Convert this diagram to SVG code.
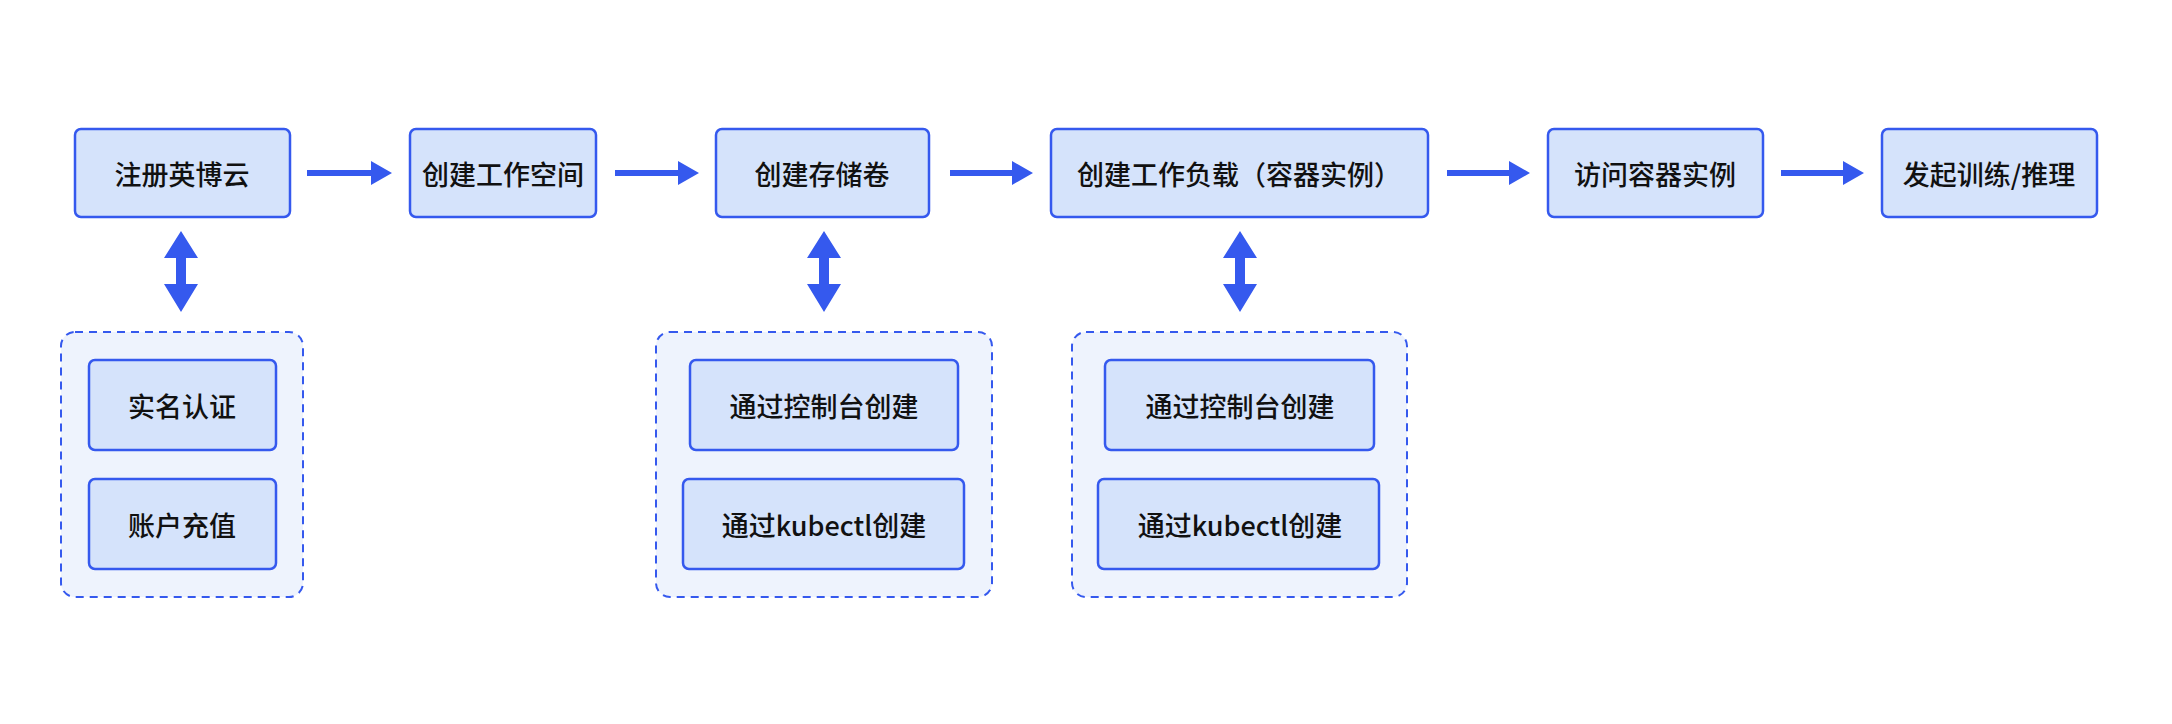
<svg xmlns="http://www.w3.org/2000/svg" width="2172" height="724" viewBox="0 0 2172 724">
<style>
.n{fill:#d5e3fb;stroke:#3559ee;stroke-width:2.5}
.g{fill:#eef3fd;stroke:#3559ee;stroke-width:2;stroke-dasharray:8 6}
.t{font-family:"Noto Sans CJK SC",sans-serif;font-size:27px;font-weight:500;fill:#111;text-anchor:middle;dominant-baseline:central}
.a{fill:#3559ee}
</style>
<rect width="2172" height="724" fill="#fff"/>
<g id="grp1"><rect class="g" x="61" y="332" width="242" height="265" rx="14"/></g>
<g id="grp2"><rect class="g" x="656" y="332" width="336" height="265" rx="14"/></g>
<g id="grp3"><rect class="g" x="1072" y="332" width="335" height="265" rx="14"/></g>
<g id="n1"><rect class="n" x="75" y="129" width="215" height="88" rx="6"/><text class="t" x="182" y="173">注册英博云</text></g>
<g id="n2"><rect class="n" x="410" y="129" width="186" height="88" rx="6"/><text class="t" x="503" y="173">创建工作空间</text></g>
<g id="n3"><rect class="n" x="716" y="129" width="213" height="88" rx="6"/><text class="t" x="822" y="173">创建存储卷</text></g>
<g id="n4"><rect class="n" x="1051" y="129" width="377" height="88" rx="6"/><text class="t" x="1239" y="173">创建工作负载（容器实例）</text></g>
<g id="n5"><rect class="n" x="1548" y="129" width="215" height="88" rx="6"/><text class="t" x="1655" y="173">访问容器实例</text></g>
<g id="n6"><rect class="n" x="1882" y="129" width="215" height="88" rx="6"/><text class="t" x="1989" y="173">发起训练/推理</text></g>
<g id="n7"><rect class="n" x="89" y="360" width="187" height="90" rx="6"/><text class="t" x="182" y="405">实名认证</text></g>
<g id="n8"><rect class="n" x="89" y="479" width="187" height="90" rx="6"/><text class="t" x="182" y="524">账户充值</text></g>
<g id="n9"><rect class="n" x="690" y="360" width="268" height="90" rx="6"/><text class="t" x="824" y="405">通过控制台创建</text></g>
<g id="n10"><rect class="n" x="683" y="479" width="281" height="90" rx="6"/><text class="t" x="824" y="524">通过kubectl创建</text></g>
<g id="n11"><rect class="n" x="1105" y="360" width="269" height="90" rx="6"/><text class="t" x="1240" y="405">通过控制台创建</text></g>
<g id="n12"><rect class="n" x="1098" y="479" width="281" height="90" rx="6"/><text class="t" x="1240" y="524">通过kubectl创建</text></g>
<g id="connectors" class="a">
<polygon points="307,170 371,170 371,161 392,173 371,185 371,176 307,176"/>
<polygon points="615,170 678,170 678,161 699,173 678,185 678,176 615,176"/>
<polygon points="950,170 1012,170 1012,161 1033,173 1012,185 1012,176 950,176"/>
<polygon points="1447,170 1509,170 1509,161 1530,173 1509,185 1509,176 1447,176"/>
<polygon points="1781,170 1843,170 1843,161 1864,173 1843,185 1843,176 1781,176"/>
<polygon points="181,231 198,258 186,258 186,284 198,284 181,312 164,284 176,284 176,258 164,258"/>
<polygon points="824,231 841,258 829,258 829,284 841,284 824,312 807,284 819,284 819,258 807,258"/>
<polygon points="1240,231 1257,258 1245,258 1245,284 1257,284 1240,312 1223,284 1235,284 1235,258 1223,258"/>
</g>
</svg>
